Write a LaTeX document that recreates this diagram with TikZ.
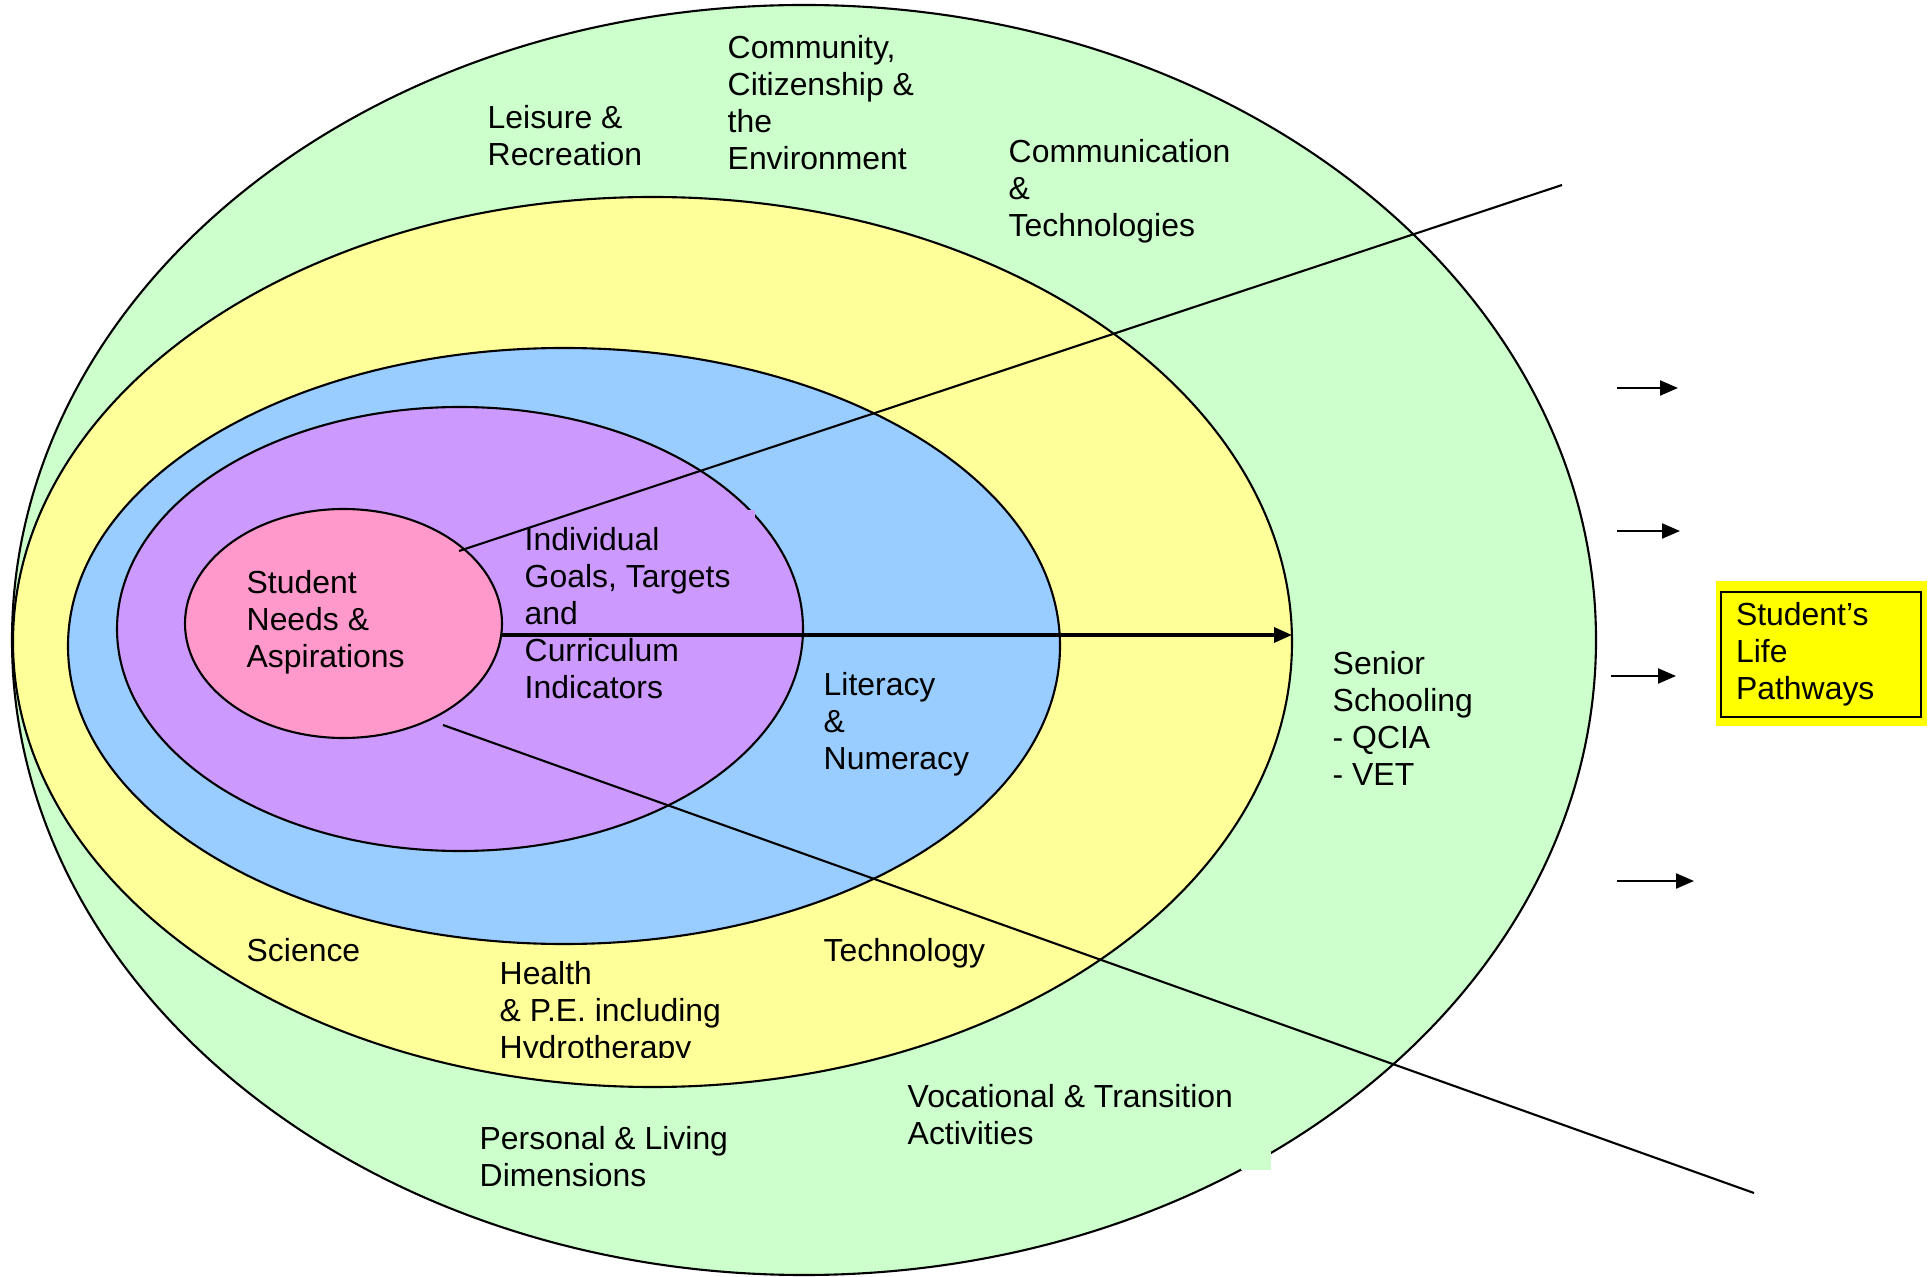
\documentclass[tikz,border=0pt]{standalone}
\usepackage{fontspec}
\setmainfont{Liberation Sans}
\usepackage{tikz}
\usetikzlibrary{arrows.meta,shapes.geometric}
\definecolor{lpgreen}{HTML}{CCFFCC}
\definecolor{lpyellow}{HTML}{FFFF99}
\definecolor{lpblue}{HTML}{99CCFF}
\definecolor{lppurple}{HTML}{CC99FF}
\definecolor{lppink}{HTML}{FF99CC}
\definecolor{lpbox}{HTML}{FFFF00}

\begin{document}
\begin{tikzpicture}[font=\fontsize{9.08}{10.5}\selectfont,>={Triangle[length=1.8mm,width=1.5mm]},
  ring/.style={ellipse,draw,line width=0.6pt,inner sep=0pt,outer sep=0pt},
  lbl/.style={anchor=north west,align=left,inner sep=0pt}]
  \useasboundingbox (0,0) rectangle (19.29,-12.77);
  % nested rings, outermost first
  \node[ring,fill=lpgreen,minimum width=15.84cm,minimum height=12.70cm] (outer) at (8.04,-6.40) {};
  \node[ring,fill=lpyellow,minimum width=12.79cm,minimum height=8.90cm] (core) at (6.525,-6.42) {};
  \node[ring,fill=lpblue,minimum width=9.92cm,minimum height=5.96cm] (lit) at (5.64,-6.46) {};
  \node[ring,fill=lppurple,minimum width=6.86cm,minimum height=4.44cm] (goals) at (4.60,-6.29) {};
  \node[ring,fill=lppink,minimum width=3.17cm,minimum height=2.29cm] (needs) at (3.435,-6.235) {};
  % label backings that hide bits of the borders
  \fill[lpgreen] (12.41,-11.52) rectangle (12.71,-11.70);
  \fill[lppurple] (7.46,-5.10) rectangle (7.55,-5.22);

  % the two rays and the main arrow
  \coordinate (upfrom) at (4.59,-5.51);
  \coordinate (upto) at (15.62,-1.85);
  \coordinate (lowfrom) at (4.43,-7.25);
  \coordinate (lowto) at (17.54,-11.93);
  \draw[line width=0.6pt] (upfrom) -- (upto);
  \draw[line width=0.6pt] (lowfrom) -- (lowto);
  \coordinate (goal) at (5.01,-6.35);
  \coordinate (senioredge) at (12.92,-6.35);
  \draw[->,line width=0.9pt] (goal) -- (senioredge);

  % short arrows towards the pathways box
  \foreach \y/\a/\b [count=\i] in {3.88/16.17/16.78, 5.31/16.17/16.80, 6.76/16.11/16.76, 8.81/16.17/16.94}{
    \coordinate (p\i) at (\a,-\y);
    \coordinate (q\i) at (\b,-\y);
    \draw[->,line width=0.6pt] (p\i) -- (q\i);}

  \fill[lpbox] (17.16,-5.81) rectangle (19.27,-7.26);
  \node[draw,line width=0.6pt,anchor=north west,minimum width=2.00cm,minimum height=1.25cm,text width=1.70cm,inner xsep=0.15cm,inner ysep=0pt,align=left] (life) at (17.20,-5.91) {Student’s\\Life\\Pathways};

  % ring labels
  \node[lbl] (leisure) at (4.87,-1.05) {Leisure \&\\Recreation};
  \node[lbl] (community) at (7.27,-0.35) {Community,\\Citizenship \&\\the\\Environment};
  \node[lbl] (comms) at (10.08,-1.39) {Communication\\\&\\Technologies};
  \node[lbl] (needstext) at (2.46,-5.70) {Student\\Needs \&\\Aspirations};
  \node[lbl] (goalstext) at (5.24,-5.27) {Individual\\Goals, Targets\\and\\Curriculum\\Indicators};
  \node[lbl] (littext) at (8.23,-6.72) {Literacy\\\&\\Numeracy};
  \node[lbl] (senior) at (13.32,-6.51) {Senior\\Schooling\\- QCIA\\- VET};
  \node[lbl] (science) at (2.46,-9.38) {Science};
  \node[lbl] (tech) at (8.23,-9.38) {Technology};
  \begin{scope}
    \clip (4.80,-9.40) rectangle (7.60,-10.57);
    \node[lbl] (health) at (4.99,-9.61) {Health\\\& P.E. including\\Hydrotherapy};
  \end{scope}
  \node[lbl] (vocational) at (9.07,-10.84) {Vocational \& Transition\\Activities};
  \node[lbl] (personal) at (4.79,-11.26) {Personal \& Living\\Dimensions};
\end{tikzpicture}
\end{document}
